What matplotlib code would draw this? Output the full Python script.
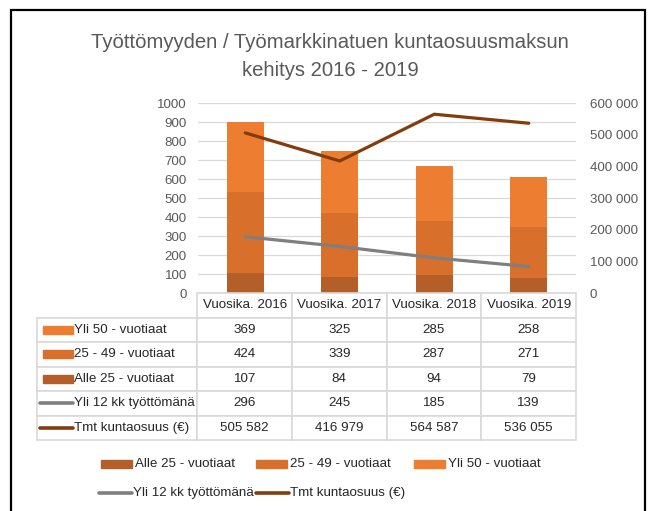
import matplotlib.pyplot as plt
from matplotlib.patches import Rectangle
from matplotlib.lines import Line2D
from matplotlib.table import Table

plt.rcParams['font.family'] = ['Liberation Sans', 'DejaVu Sans']

years = ['Vuosika. 2016', 'Vuosika. 2017', 'Vuosika. 2018', 'Vuosika. 2019']
alle25 = [107, 84, 94, 79]
v25_49 = [424, 339, 287, 271]
yli50 = [369, 325, 285, 258]
yli12kk = [296, 245, 185, 139]
tmt = [505582, 416979, 564587, 536055]

c_alle = '#B45F2A'
c_mid = '#D8702C'
c_yli = '#ED7D31'
c_gray = '#7F7F7F'
c_brown = '#843C0C'
txt = '#595959'
W, H = 651, 511
fs = 9.6


def fx(px):
    return px / W


def fy(py):
    return 1 - py / H


def fmt(v):
    return f'{v:,}'.replace(',', ' ')


fig = plt.figure(figsize=(6.51, 5.11), dpi=100)

# outer frame
fig.add_artist(Rectangle((fx(11), fy(560)), fx(645) - fx(11), fy(10) - fy(560),
                         fill=False, edgecolor='black', lw=1.6, transform=fig.transFigure))

fig.text(fx(330), fy(42), 'Työttömyyden / Työmarkkinatuen kuntaosuusmaksun',
         ha='center', va='center', fontsize=14.6, color=txt)
fig.text(fx(330), fy(70), 'kehitys 2016 - 2019', ha='center', va='center',
         fontsize=14.6, color=txt)

ax = fig.add_axes([fx(198), fy(293), fx(576) - fx(198), fy(103) - fy(293)])
x = range(len(years))
w = 0.39
bottom2 = alle25
bottom3 = [a + b for a, b in zip(alle25, v25_49)]
ax.bar(x, alle25, w, color=c_alle, zorder=2)
ax.bar(x, v25_49, w, bottom=bottom2, color=c_mid, zorder=2)
ax.bar(x, yli50, w, bottom=bottom3, color=c_yli, zorder=2)
ax.plot(x, yli12kk, color=c_gray, lw=2.3, zorder=3, solid_capstyle='round')

ax.set_xlim(-0.5, 3.5)
ax.set_ylim(0, 1000)
ax.set_yticks(range(0, 1001, 100))
ax.set_xticks([])
ax.grid(axis='y', color='#D9D9D9', lw=0.9, zorder=0)
ax.tick_params(axis='y', length=0, pad=8, labelsize=fs, labelcolor=txt)
for s in ax.spines.values():
    s.set_visible(False)

ax2 = ax.twinx()
ax2.plot(x, tmt, color=c_brown, lw=2.3, zorder=4, solid_capstyle='round')
ax2.set_ylim(0, 600000)
ax2.set_yticks(range(0, 600001, 100000))
ax2.set_yticklabels([fmt(v) for v in range(0, 600001, 100000)])
ax2.tick_params(axis='y', length=0, pad=10, labelsize=fs, labelcolor=txt)
for s in ax2.spines.values():
    s.set_visible(False)

# data table under the chart
rows = [
    ('Yli 50 - vuotiaat', yli50, 'bar', c_yli),
    ('25 - 49 - vuotiaat', v25_49, 'bar', c_mid),
    ('Alle 25 - vuotiaat', alle25, 'bar', c_alle),
    ('Yli 12 kk työttömänä', yli12kk, 'line', c_gray),
    ('Tmt kuntaosuus (€)', tmt, 'line', c_brown),
]
tab_left, tab_right, tab_top, tab_bot = 37, 576, 293, 440
scale = 378
bbox = [(tab_left - 198) / scale, (293 - tab_bot) / 190,
        (tab_right - tab_left) / scale, (tab_bot - tab_top) / 190]
tb = Table(ax, bbox=bbox)
lab_w, col_w = 160, 94.5
rh = 1 / 6
for j, yr in enumerate(years):
    tb.add_cell(0, j + 1, col_w, rh, text=yr, loc='center', edgecolor='#D9D9D9')
for i, (name, vals, kind, col) in enumerate(rows):
    tb.add_cell(i + 1, 0, lab_w, rh, text='', edgecolor='#D9D9D9')
    for j, v in enumerate(vals):
        tb.add_cell(i + 1, j + 1, col_w, rh, text=fmt(v), loc='center', edgecolor='#D9D9D9')
tb.auto_set_font_size(False)
for cell in tb.get_celld().values():
    cell.set_linewidth(1.2)
    cell.get_text().set_fontsize(fs)
    cell.get_text().set_color('#262626')
tb.set_zorder(5)
ax.add_table(tb)

row_h = (tab_bot - tab_top) / 6
for i, (name, vals, kind, col) in enumerate(rows):
    yc = tab_top + row_h * (i + 1.5)
    if kind == 'bar':
        fig.add_artist(Rectangle((fx(43), fy(yc + 4)), fx(73) - fx(43), fy(yc - 4) - fy(yc + 4),
                                 color=col, transform=fig.transFigure))
    else:
        fig.add_artist(Line2D([fx(40), fx(73)], [fy(yc), fy(yc)], color=col, lw=2.6,
                              solid_capstyle='round', transform=fig.transFigure))
    fig.text(fx(74), fy(yc), name, ha='left', va='center', fontsize=fs, color='#262626')

# legend
legend_items = [
    ('Alle 25 - vuotiaat', 'bar', c_alle, 101, 464),
    ('25 - 49 - vuotiaat', 'bar', c_mid, 256, 464),
    ('Yli 50 - vuotiaat', 'bar', c_yli, 414, 464),
    ('Yli 12 kk työttömänä', 'line', c_gray, 99, 493),
    ('Tmt kuntaosuus (€)', 'line', c_brown, 256, 493),
]
for name, kind, col, lx, ly in legend_items:
    if kind == 'bar':
        fig.add_artist(Rectangle((fx(lx), fy(ly + 4)), fx(lx + 31) - fx(lx), fy(ly - 4) - fy(ly + 4),
                                 color=col, transform=fig.transFigure))
    else:
        fig.add_artist(Line2D([fx(lx), fx(lx + 33)], [fy(ly), fy(ly)], color=col, lw=2.6,
                              solid_capstyle='round', transform=fig.transFigure))
    fig.text(fx(lx + 34), fy(ly), name, ha='left', va='center', fontsize=fs, color='#262626')

fig.savefig('out.png', dpi=100)
